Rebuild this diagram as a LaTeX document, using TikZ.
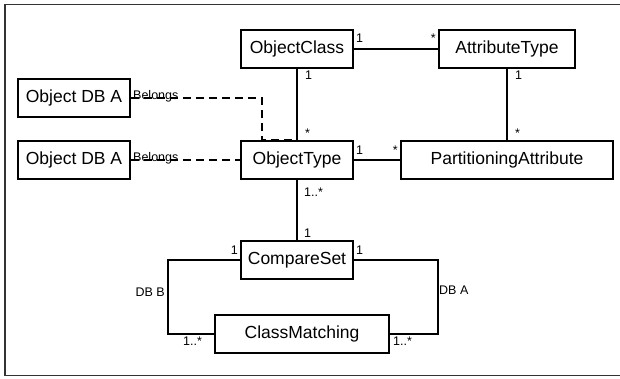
\documentclass[tikz,border=0pt]{standalone}
\usepackage{fontspec}
\setmainfont{Liberation Sans}
\begin{document}
\begin{tikzpicture}[x=1pt,y=-1pt,
  cls/.style={draw, line width=2pt, inner sep=0pt, minimum height=38pt,
    font=\fontsize{17.5}{20}\selectfont},
  assoc/.style={line width=2pt},
  depend/.style={line width=2pt, dash pattern=on 8pt off 5pt},
  mult/.style={inner sep=0pt, font=\fontsize{12.5}{14}\selectfont},
  frame/.style={line width=1.5pt, black!80}]
\useasboundingbox (0,0) rectangle (620,378);
\draw[frame] (5,4.5) rectangle (640,375.5);

% classes
\node[cls, minimum width=112pt] (oc) at (297,49) {ObjectClass};
\node[cls, minimum width=136pt] (at) at (507,49) {AttributeType};
\node[cls, minimum width=112pt] (o1) at (74,98) {Object DB A};
\node[cls, minimum width=112pt] (o2) at (74,160) {Object DB A};
\node[cls, minimum width=112pt] (ot) at (297,160) {ObjectType};
\node[cls, minimum width=212pt] (pa) at (507,160) {PartitioningAttribute};
\node[cls, minimum width=112pt] (cs) at (297,260) {CompareSet};
\node[cls, minimum width=174pt] (cm) at (302,334) {ClassMatching};

\coordinate (dk) at (262,120);
\coordinate (lft) at (168,300);
\coordinate (rgt) at (438,300);

% associations
\draw[assoc] (oc.east) -- (at.west);
\draw[assoc] (oc.south) -- (ot.north);
\draw[assoc] (at.south) -- (pa.north);
\draw[assoc] (ot.east) -- (pa.west);
\draw[assoc] (ot.south) -- (cs.north);
\draw[assoc] (cs.west) -| (lft) |- (cm.west);
\draw[assoc] (cs.east) -| (rgt) |- (cm.east);

% dependencies
\draw[depend] (o1.east) -| (dk) |- (ot.north);
\draw[depend] (o2.east) -- (ot.west);
\node[mult, anchor=base west] (b1) at (133,99) {Belongs};
\node[mult, anchor=base west] (b2) at (133,161) {Belongs};

% multiplicities
\node[mult, anchor=south west] (m1) at (356,43) {1};
\node[mult, anchor=south east] (m2) at (436,43) {*};
\node[mult, anchor=north west] (m3) at (305,71) {1};
\node[mult, anchor=south west] (m4) at (305,138) {*};
\node[mult, anchor=north west] (m5) at (515,71) {1};
\node[mult, anchor=south west] (m6) at (515,138) {*};
\node[mult, anchor=south west] (m7) at (356,155) {1};
\node[mult, anchor=south east] (m8) at (398,155) {*};
\node[mult, anchor=north west] (m9) at (304,188) {1..*};
\node[mult, anchor=south west] (m10) at (304,238) {1};
\node[mult, anchor=south east] (m11) at (238,255) {1};
\node[mult, anchor=south west] (m12) at (356,255) {1};
\node[mult, anchor=east] (m13) at (165,292) {DB B};
\node[mult, anchor=west] (m14) at (439,290) {DB A};
\node[mult, anchor=north west] (m15) at (183,337) {1..*};
\node[mult, anchor=north west] (m16) at (393,337) {1..*};
\end{tikzpicture}
\end{document}
